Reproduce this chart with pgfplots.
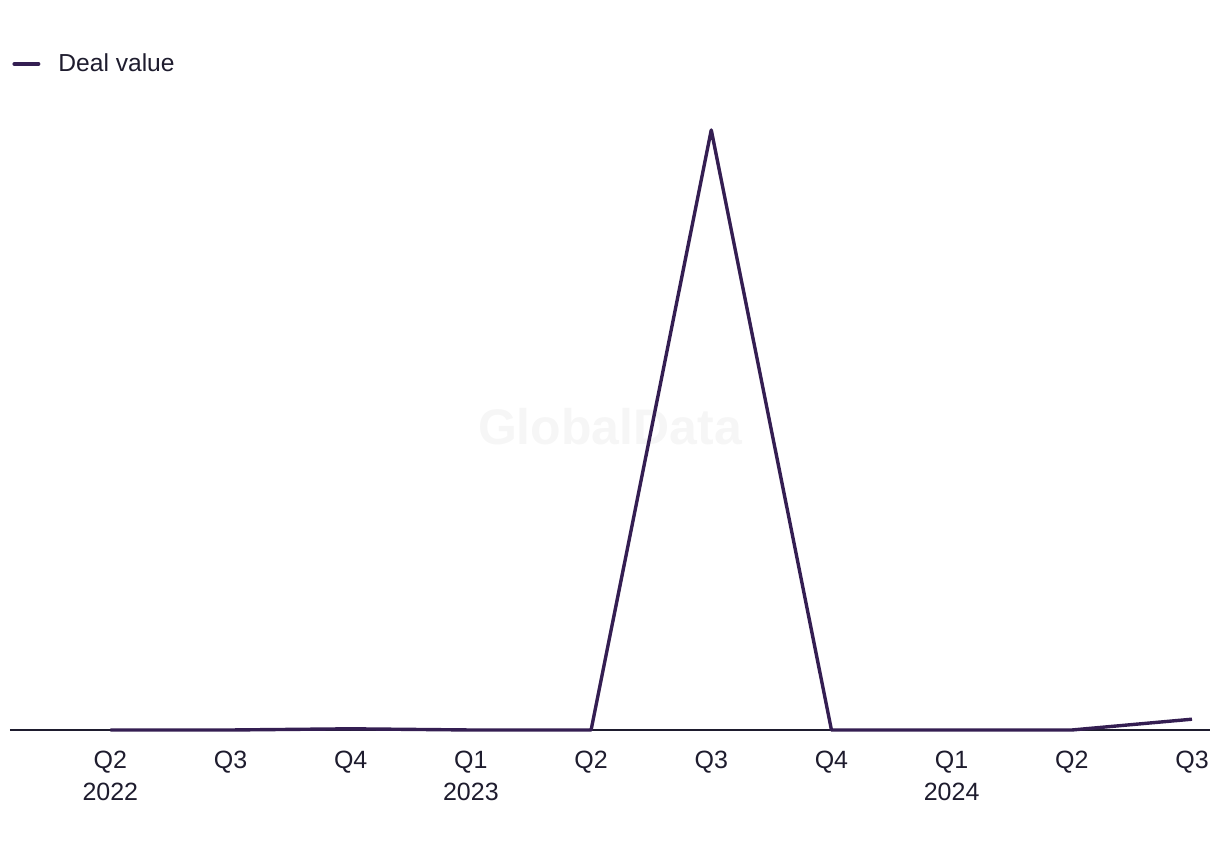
\documentclass[border=0pt]{standalone}
\usepackage{pgfplots}
\pgfplotsset{compat=1.18}
\usepackage{fontspec}
\setmainfont{Liberation Sans}
\definecolor{deal}{RGB}{52,30,82}
\definecolor{txt}{RGB}{30,28,46}
\definecolor{wm}{RGB}{246,246,246}
\begin{document}
\begin{tikzpicture}
\useasboundingbox (0,0) rectangle (610pt,425pt);
\begin{axis}[
  at={(5pt,60pt)}, anchor=south west,
  scale only axis, width=600pt, height=315pt,
  xmin=-0.835, xmax=9.15, ymin=0, ymax=105,
  axis x line*=bottom, axis y line=none,
  x axis line style={-, line width=0.9pt, color=txt},
  xtick={0,...,9}, xticklabels={{Q2\\2022},Q3,Q4,{Q1\\2023},Q2,Q3,Q4,{Q1\\2024},Q2,Q3},
  xticklabel style={align=center, font=\fontsize{12.5}{16}\selectfont, text=txt, yshift=-7pt},
  major tick length=0pt,
  ytick=\empty,
  clip=false,
  legend style={draw=none, fill=none, at={(0,1)}, anchor=west, yshift=18pt, xshift=1pt,
    font=\fontsize{12.3}{15}\selectfont, text=txt, inner sep=0pt, row sep=0pt},
  legend cell align=left,
  legend image code/.code={\draw[line width=2pt, line cap=round] (0pt,0pt) -- (12pt,0pt);},
]
\node[font=\bfseries\fontsize{25}{30}\selectfont, text=wm] at (rel axis cs:0.5,0.481) {GlobalData};
\addplot[color=deal, line width=1.7pt, line join=round] coordinates {
  (0,0) (1,0) (2,0.2) (3,0) (4,0) (5,100) (6,0) (7,0) (8,0) (9,1.8)
};
\addlegendentry{\hspace{7pt}Deal value}
\end{axis}
\end{tikzpicture}
\end{document}
